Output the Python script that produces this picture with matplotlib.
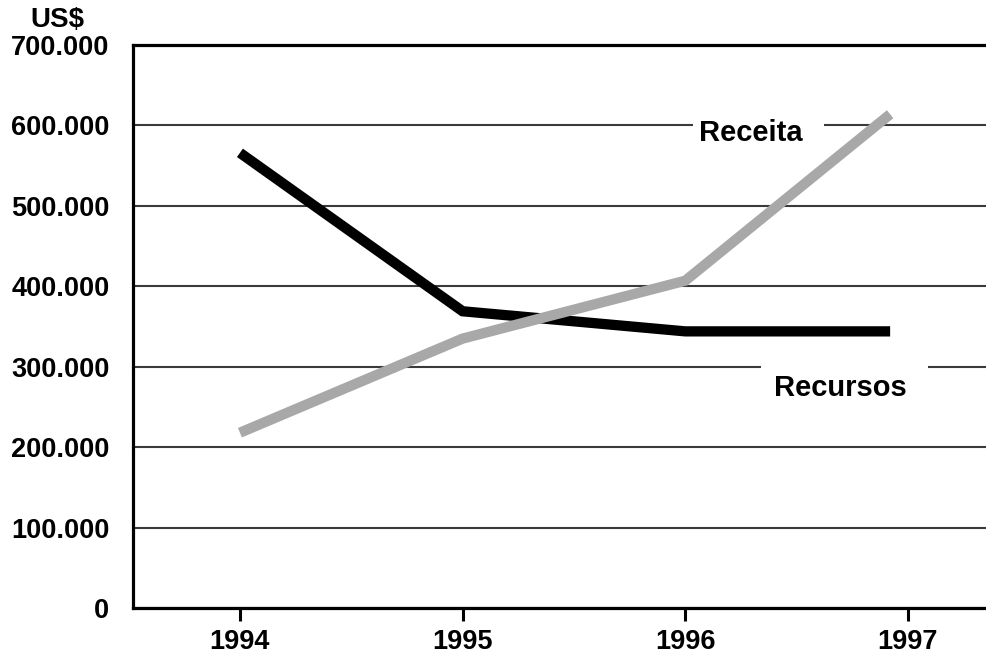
"""Receita vs Recursos, 1994-1997 (US$)."""

import matplotlib
matplotlib.use("Agg")
import matplotlib.pyplot as plt

plt.rcParams["font.family"] = ["Liberation Sans", "DejaVu Sans"]
plt.rcParams["font.weight"] = "bold"

# data (US$ thousands)
years = [1994, 1995, 1996, 1996.92]
recursos = [566, 369, 344, 344]
receita = [218, 335, 407, 614]
tick_years = [1994, 1995, 1996, 1997]
y_ticks = [0, 100, 200, 300, 400, 500, 600, 700]
y_labels = ["0", "100.000", "200.000", "300.000", "400.000", "500.000",
            "600.000", "700.000"]

fig = plt.figure(figsize=(9.87, 6.54), dpi=100)
ax = fig.add_axes([0.1348, 0.0703, 0.8652, 0.8608])

ax.plot(years, recursos, color="black", linewidth=7.4,
        solid_capstyle="butt", solid_joinstyle="miter", zorder=4)
ax.plot(years, receita, color="#a8a8a8", linewidth=7.4,
        solid_capstyle="butt", solid_joinstyle="miter", zorder=4)

ax.set_xlim(1993.52, 1997.355)
ax.set_ylim(0, 700)
ax.set_xticks(tick_years)
ax.set_xticklabels([str(y) for y in tick_years])
ax.set_yticks(y_ticks)
ax.set_yticklabels(y_labels)

ax.yaxis.grid(True, color="#3a3a3a", linewidth=1.5, zorder=1)
ax.set_axisbelow(True)
ax.tick_params(axis="y", length=0, pad=17, labelsize=19.5)
ax.tick_params(axis="x", length=9, width=2.2, pad=6, labelsize=19.5,
               direction="out", color="black")
for lbl in ax.get_xticklabels() + ax.get_yticklabels():
    lbl.set_fontweight("bold")

ax.spines["right"].set_visible(False)
for s in ("left", "top", "bottom"):
    ax.spines[s].set_linewidth(2.3)
    ax.spines[s].set_color("black")

ax.text(1996.06, 591, "Receita  ", fontsize=21, fontweight="bold",
        ha="left", va="center", bbox=dict(facecolor="white",
        edgecolor="none", boxstyle="square,pad=0.2"), zorder=3)
ax.text(1996.40, 274, "Recursos ", fontsize=21, fontweight="bold",
        ha="left", va="center", bbox=dict(facecolor="white",
        edgecolor="none", boxstyle="square,pad=0.45"), zorder=3)

fig.text(0.058, 0.969, "US$", fontsize=20, fontweight="bold",
         ha="center", va="center")

fig.savefig("out.png", dpi=100)
